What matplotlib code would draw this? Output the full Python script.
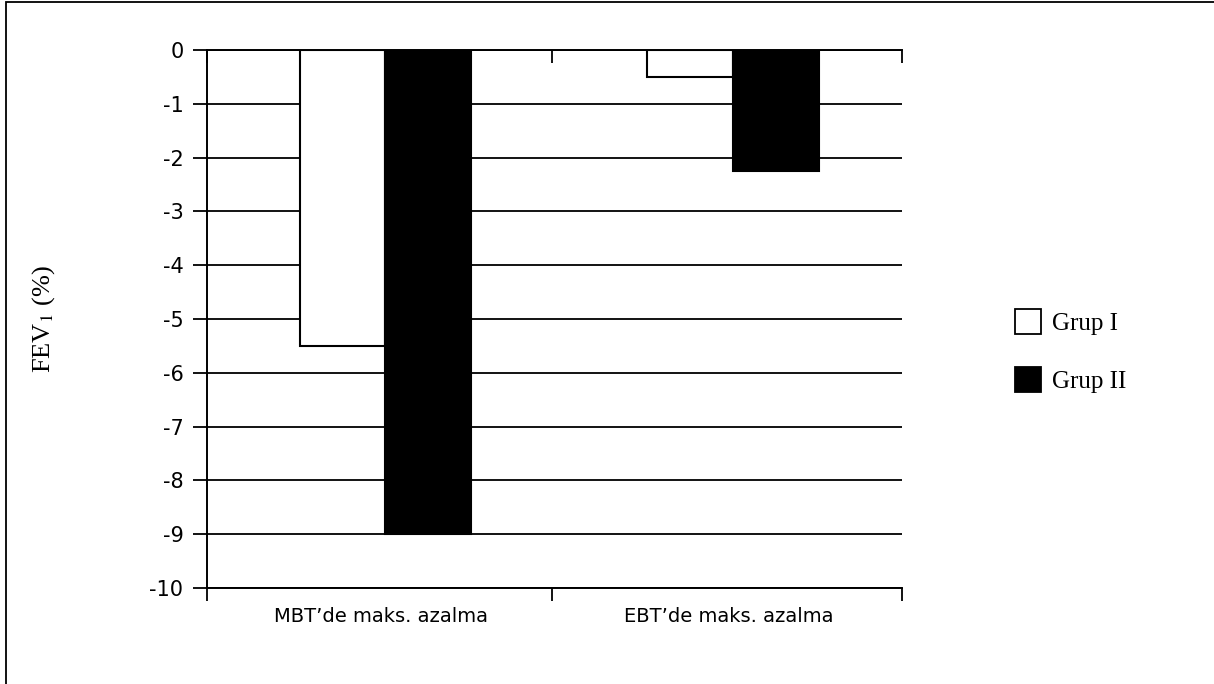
import matplotlib
matplotlib.use("Agg")
import matplotlib.pyplot as plt
from matplotlib.patches import Patch, Rectangle
import numpy as np

categories = ["MBT\u2019de maks. azalma", "EBT\u2019de maks. azalma"]
grup1 = [-5.5, -0.5]
grup2 = [-9.0, -2.25]
series_labels = ["Grup I", "Grup II"]
yticks = list(range(0, -11, -1))

plt.rcParams['mathtext.fontset'] = 'stix'

W, H = 1214, 684
fig = plt.figure(figsize=(W / 100, H / 100), dpi=100)
ax = fig.add_axes([207 / W, 1 - 588 / H, (902 - 207) / W, (588 - 50) / H])

x = np.arange(len(categories))
bw = 0.247
ax.bar(x - 0.11, grup1, bw, color='white', edgecolor='black', linewidth=1.5, zorder=3)
ax.bar(x + 0.137, grup2, bw, color='black', edgecolor='black', linewidth=1.5, zorder=3)

ax.set_xlim(-0.5, 1.5)
ax.set_ylim(-10, 0)
ax.set_yticks(yticks)
ax.set_yticklabels([str(v) for v in yticks], fontfamily='DejaVu Sans', fontsize=15)
ax.yaxis.grid(True, color='black', linewidth=1.3, zorder=1)
ax.set_axisbelow(True)

ax.set_xticks(x)
ax.set_xticklabels(categories, fontfamily='DejaVu Sans', fontsize=14)
ax.tick_params(axis='x', which='major', length=0, pad=14)
ax.set_xticks([-0.5, 0.493, 1.5], minor=True)
ax.tick_params(axis='x', which='minor', bottom=True, top=True, length=9, width=1.3,
               direction='out')
ax.tick_params(axis='y', which='major', length=10, width=1.3, pad=7, direction='out')
ax.spines['right'].set_visible(False)
for s in ['left', 'bottom', 'top']:
    ax.spines[s].set_linewidth(1.4)

# top ticks point down into the plot
for t in ax.xaxis.get_minor_ticks():
    t.tick2line.set_marker(matplotlib.markers.TICKDOWN)

ax.set_ylabel('FEV$_1$ (%)', fontfamily='Liberation Serif', fontsize=19)
ax.yaxis.set_label_coords(-150 / (902 - 207), 0.5)

handles = [Patch(facecolor='white', edgecolor='black', linewidth=1.3),
           Patch(facecolor='black', edgecolor='black', linewidth=1.3)]
fig.legend(handles, series_labels, loc='upper left',
           bbox_to_anchor=(1015 / W, 1 - 309 / H), frameon=False,
           prop={'family': 'Liberation Serif', 'size': 18},
           handlelength=1.05, handleheight=1.15, handletextpad=0.45,
           labelspacing=1.28, borderpad=0, borderaxespad=0)

fig.patches.append(Rectangle((6 / W, -0.1), 1.2, 1 - 2 / H + 0.1, transform=fig.transFigure,
                             fill=False, edgecolor='black', linewidth=1.3))

fig.savefig('out.png', dpi=100)
